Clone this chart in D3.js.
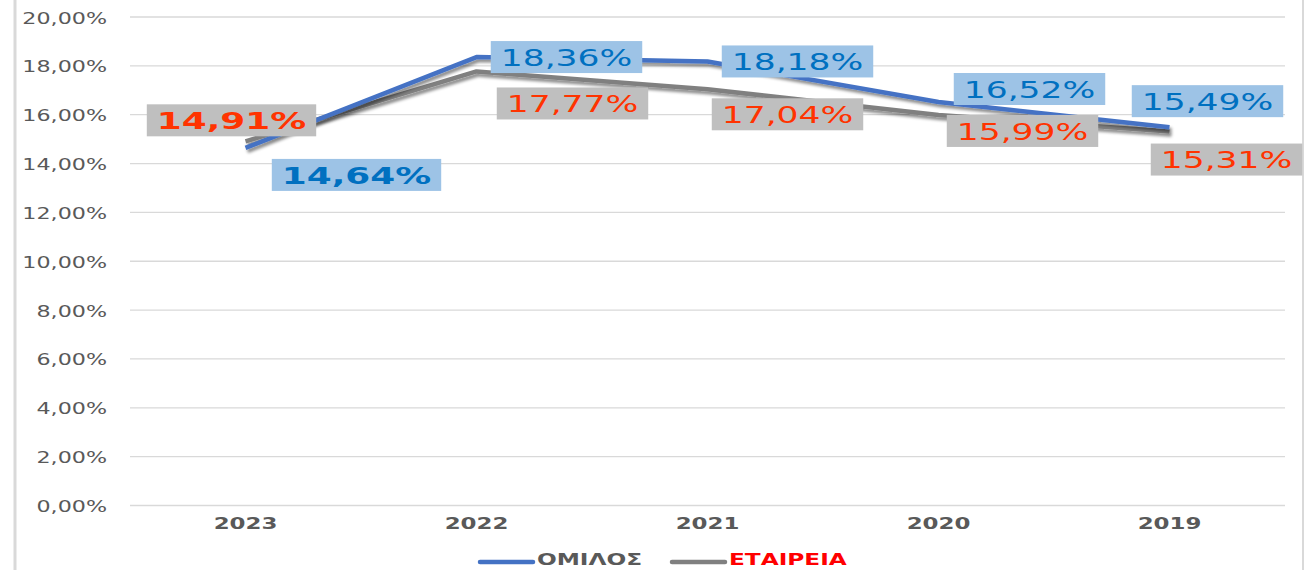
<!DOCTYPE html>
<html>
<head>
<meta charset="utf-8">
<script src="https://cdn.jsdelivr.net/npm/d3@7"></script>
<style>
  html, body { margin: 0; padding: 0; background: #ffffff; }
  svg { display: block; font-family: "DejaVu Sans", Verdana, sans-serif; }
</style>
</head>
<body>
<div id="chart"></div>
<script>
// Data
const years = ['2023', '2022', '2021', '2020', '2019'];
const groupValues = [14.64, 18.36, 18.18, 16.52, 15.49];   // ΟΜΙΛΟΣ
const companyValues = [14.91, 17.77, 17.04, 15.99, 15.31]; // ΕΤΑΙΡΕΙΑ
const yTicks = [0, 2, 4, 6, 8, 10, 12, 14, 16, 18, 20];
const seriesNames = ['ΟΜΙΛΟΣ', 'ΕΤΑΙΡΕΙΑ'];

// label placement (offset of box centre from the point, in px)
const groupLabelOffsets = [[111, 27], [90, 0], [90, 0], [91, -13], [38, -26]];
const companyLabelOffsets = [[-14, -21], [96, 32], [80, 25], [84, 16], [57, 28]];
const boldLabel = [true, false, false, false, false];

const width = 1314, height = 570;
const sx = 1.5; // horizontal stretch of the original picture

const svg = d3.select('#chart').append('svg')
    .attr('width', width)
    .attr('height', height);

const defs = svg.append('defs');
const shadow = defs.append('filter')
    .attr('id', 'shadow')
    .attr('x', '-10%').attr('y', '-50%')
    .attr('width', '120%').attr('height', '200%');
shadow.append('feDropShadow')
    .attr('dx', 2).attr('dy', 3)
    .attr('stdDeviation', 1.8)
    .attr('flood-color', '#000')
    .attr('flood-opacity', 0.45);

// frame lines on the left/right
svg.append('line')
    .attr('x1', 15).attr('x2', 15).attr('y1', 0).attr('y2', height)
    .attr('stroke', '#d9d9d9').attr('stroke-width', 3);
svg.append('line')
    .attr('x1', 1303).attr('x2', 1303).attr('y1', 0).attr('y2', height)
    .attr('stroke', '#d9d9d9').attr('stroke-width', 2);

const x = d3.scaleBand().domain(years).range([130, 1285]);
const y = d3.scaleLinear().domain([0, 20]).range([505.5, 17]);
const cx = d => x(d) + x.bandwidth() / 2;

// stretched text helper
function stretchedText(parent, px, py, txt, opts) {
    const g = parent.append('g')
        .attr('transform', `translate(${px},${py}) scale(${opts.sx || sx},1)`);
    const t = g.append('text')
        .attr('text-anchor', opts.anchor || 'middle')
        .attr('dominant-baseline', 'central')
        .attr('font-size', opts.size)
        .attr('font-weight', opts.bold ? 'bold' : 'normal')
        .attr('fill', opts.color)
        .text(txt);
    return { g, t };
}

// gridlines
svg.append('g').selectAll('line')
    .data(yTicks)
    .join('line')
    .attr('x1', 130).attr('x2', 1285)
    .attr('y1', d => y(d)).attr('y2', d => y(d))
    .attr('stroke', '#d9d9d9').attr('stroke-width', 1.3);

// y tick labels
const fmt = v => v.toFixed(2).replace('.', ',') + '%';
yTicks.forEach(v => {
    stretchedText(svg, 107, y(v) + 1, fmt(v), { anchor: 'end', size: 15, color: '#595959', sx: 1.48 });
});

// x tick labels
years.forEach(yr => {
    stretchedText(svg, cx(yr), 523.5, yr, { size: 16, bold: true, color: '#595959', sx: 1.43 });
});

// lines
const line = d3.line()
    .x((d, i) => cx(years[i]))
    .y(d => y(d));

svg.append('path')
    .datum(companyValues)
    .attr('d', line)
    .attr('fill', 'none')
    .attr('stroke', '#808080')
    .attr('stroke-width', 4.5)
    .attr('stroke-linejoin', 'round')
    .attr('filter', 'url(#shadow)');

svg.append('path')
    .datum(groupValues)
    .attr('d', line)
    .attr('fill', 'none')
    .attr('stroke', '#4472c4')
    .attr('stroke-width', 4.5)
    .attr('stroke-linejoin', 'round')
    .attr('filter', 'url(#shadow)');

// data labels
function drawLabels(values, offsets, boxColor, textColor) {
    values.forEach((v, i) => {
        const px = cx(years[i]) + offsets[i][0];
        const py = y(v) + offsets[i][1];
        const g = svg.append('g');
        const rect = g.append('rect').attr('fill', boxColor);
        const s = boldLabel[i] ? 1.56 : 1.5;
        const lbl = stretchedText(g, px, py + 1, fmt(v), {
            size: 23, bold: boldLabel[i], color: textColor, sx: s
        });
        const bb = lbl.t.node().getBBox();
        const w = bb.width * s + 20;
        const h = 32;
        rect.attr('x', px - w / 2).attr('y', py - h / 2)
            .attr('width', w).attr('height', h);
    });
}

drawLabels(companyValues, companyLabelOffsets, '#bfbfbf', '#ff3300');
drawLabels(groupValues, groupLabelOffsets, '#9dc3e6', '#0070c0');

// legend
const legendColors = ['#4472c4', '#808080'];
const legendTextColors = ['#595959', '#ff0000'];
const legendX = [480, 672];
seriesNames.forEach((name, i) => {
    svg.append('line')
        .attr('x1', legendX[i]).attr('x2', legendX[i] + 53)
        .attr('y1', 562).attr('y2', 562)
        .attr('stroke', legendColors[i])
        .attr('stroke-width', 4.5)
        .attr('stroke-linecap', 'round');
    stretchedText(svg, legendX[i] + 57, 560, name, {
        anchor: 'start', size: 15, bold: true, color: legendTextColors[i], sx: 1.55
    });
});
</script>
</body>
</html>
